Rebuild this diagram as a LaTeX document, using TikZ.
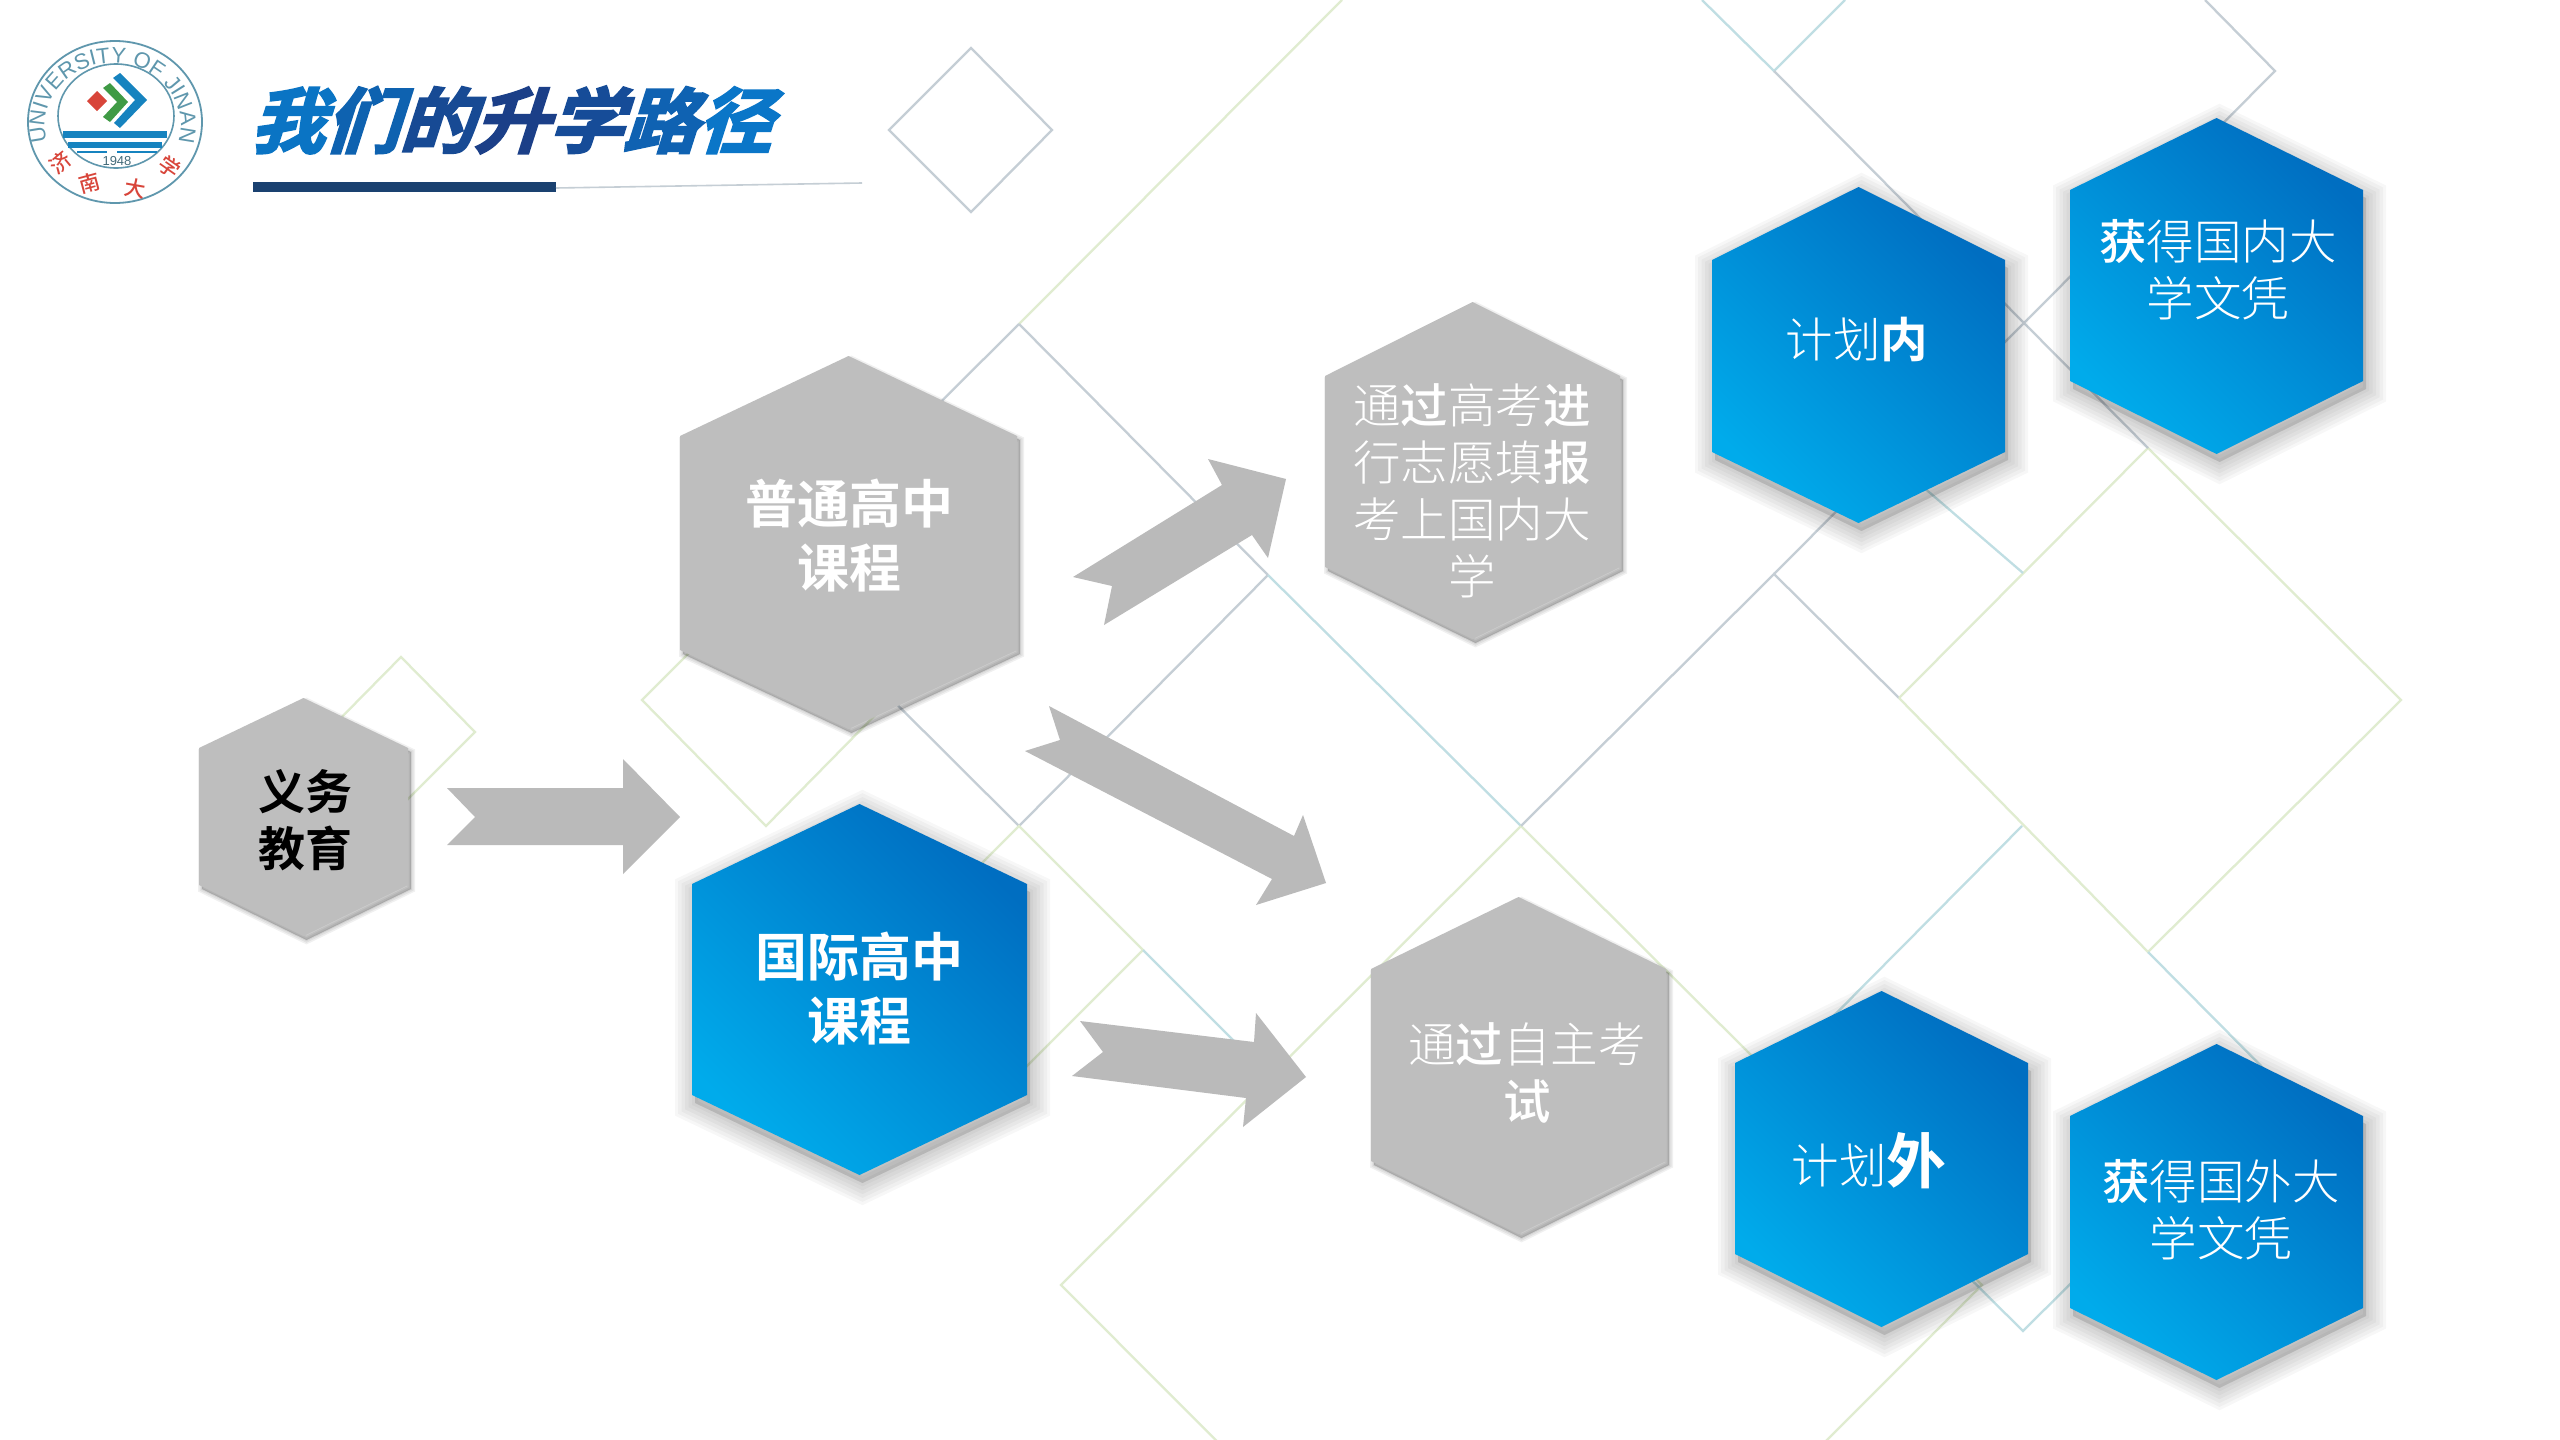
\documentclass[tikz,border=0pt]{standalone}
\usepackage{fontspec}
\usetikzlibrary{decorations.text}
\setmainfont{Liberation Sans}
\newfontfamily\cjkb{Noto Sans CJK SC Bold}
\newfontfamily\cjkm{Noto Sans CJK SC Medium}
\newfontfamily\cjkl{Noto Sans CJK SC Light}
\newfontfamily\cjkr{Noto Sans CJK SC}
\newfontfamily\ttlfont[FakeSlant=0.32,FakeBold=3.2,FakeStretch=1.05]{Noto Sans CJK SC Bold}
\definecolor{hexgrey}{HTML}{BEBEBE}
\definecolor{arrowgrey}{HTML}{BABABA}
\definecolor{blueTR}{HTML}{006EC1}
\definecolor{blueBL}{HTML}{00ABEB}
\definecolor{lnGreen}{HTML}{E0ECD0}
\definecolor{lnTeal}{HTML}{C0DEE3}
\definecolor{lnGrey}{HTML}{C5CED5}
\definecolor{barblue}{HTML}{1A4170}
\definecolor{logoblue}{HTML}{1683BF}
\definecolor{logoring}{HTML}{5F97AD}
\definecolor{logored}{HTML}{D8453A}
\definecolor{logogreen}{HTML}{3F9A45}
\definecolor{t1}{HTML}{0A74C4}
\definecolor{t2}{HTML}{0E62B0}
\definecolor{t3}{HTML}{174A94}
\definecolor{t4}{HTML}{1B3F88}
\definecolor{t5}{HTML}{164C98}
\definecolor{t6}{HTML}{0F62B2}
\definecolor{t7}{HTML}{0A76C8}
\tikzset{
  bgG/.style={draw=lnGreen,line width=2.3pt,line join=miter},
  bgT/.style={draw=lnTeal,line width=2.3pt,line join=miter},
  bgK/.style={draw=lnGrey,line width=2.3pt,line join=miter},
  blockarrow/.style={fill=arrowgrey,draw=none},
  whitebold/.style={text=white,font=\cjkb\fontsize{52}{64}\selectfont,align=center,inner sep=0pt},
  whitelight/.style={text=white,font=\cjkl\fontsize{47.5}{57}\selectfont,align=center,inner sep=0pt},
  blackbold/.style={text=black,font=\cjkb\fontsize{47}{57}\selectfont,align=center,inner sep=0pt},
  logotxt/.style={text=logored,font=\cjkm\fontsize{21}{21}\selectfont,inner sep=0pt}
}
% left right top shoulder1 shoulder2 bottom
\newcommand\hexpts[6]{({(#1+#2)/2},#3) -- (#2,#4) -- (#2,#5) -- ({(#1+#2)/2},#6) -- (#1,#5) -- (#1,#4) -- cycle}
\newcommand\greyhex[6]{%
  \path[fill=black,fill opacity=0.2,shift={(3,4)}] \hexpts{#1}{#2}{#3}{#4}{#5}{#6};
  \foreach \w in {2,5,8}{\path[draw=black,draw opacity=0.06,line width=\w pt,shift={(3,4)}] \hexpts{#1}{#2}{#3}{#4}{#5}{#6};}
  \path[fill=hexgrey] \hexpts{#1}{#2}{#3}{#4}{#5}{#6};}
\newcommand\bluehex[6]{%
  \path[fill=black,fill opacity=0.12,shift={(3,8)}] \hexpts{#1}{#2}{#3}{#4}{#5}{#6};
  \foreach \w in {6,13,20,27,34,40}{\path[draw=black,draw opacity=0.03,line width=\w pt,line join=miter,shift={(3,8)}] \hexpts{#1}{#2}{#3}{#4}{#5}{#6};}
  \path[shading=axis,top color=blueTR,bottom color=blueBL,shading angle=-45] \hexpts{#1}{#2}{#3}{#4}{#5}{#6};}
\begin{document}
\begin{tikzpicture}[x=1pt,y=-1pt]
\useasboundingbox[fill=white] (0,0) rectangle (2560,1440);
% ---- background lattice
\draw[bgK] (971,48) -- (1052,130) -- (971,212) -- (889,130) -- cycle;
\draw[bgG] (401,657) -- (475,732) -- (401,806) -- (327,732) -- cycle;
\draw[bgG] (766,576) -- (890,700) -- (766,826) -- (642,700) -- cycle;
\draw[bgG] (1342,0) -- (1019,324);
\draw[bgK] (1019,324) -- (1268,575) ;
\draw[bgK] (1268,575) -- (1019,826) -- (767,575) -- (1019,324);
\draw[bgT] (1268,575) -- (1521,826);
\draw[bgG] (1019,826) -- (1143,950) -- (1019,1074) -- (895,950) -- cycle;
\draw[bgT] (1143,950) -- (1262,1069);
\draw[bgG] (1521,826) -- (1982,1285) -- (1521,1746) -- (1061,1285) -- cycle;
\draw[bgK] (1521,826) -- (1774,574) -- (1899,698);
\draw[bgG] (1899,698) -- (2148,448) -- (2401,700) -- (2148,952) -- (1899,698);
\draw[bgT] (1702,0) -- (1774,71) -- (1845,0);
\draw[bgK] (1774,71) -- (2148,448);
\draw[bgK] (2205,0) -- (2275,71) -- (1774,574);
\draw[bgT] (1850,424) -- (2023,573);
\draw[bgT] (2148,952) -- (2275,1080) -- (2023,1331) -- (1770,1080) -- (2022,826);
% ---- block arrows
\fill[blockarrow] (447,788) -- (623,788) -- (623,759) -- (680,817) -- (623,874) -- (623,845) -- (447,845) -- (475,817) -- cycle;
\fill[blockarrow] (1112,586) -- (1073,577) -- (1222,485) -- (1208,459) -- (1286,479) -- (1268,558) -- (1252,535) -- (1104,625) -- cycle;
\fill[blockarrow] (1060,740) -- (1049,706) -- (1294,836) -- (1303,815) -- (1326,883) -- (1256,905) -- (1272,879) -- (1025,751) -- cycle;
\fill[blockarrow] (1103,1052) -- (1080,1021) -- (1254,1042) -- (1256,1013) -- (1306,1077) -- (1243,1127) -- (1246,1098) -- (1072,1076) -- cycle;
% ---- hexagons
\greyhex{199}{408}{698}{748}{885}{936}
\greyhex{680}{1017}{356}{436}{650}{729}
\bluehex{692}{1027}{804}{884}{1095}{1175}
\greyhex{1325}{1620}{302}{376}{567}{639}
\bluehex{1712}{2005}{187}{260}{452}{523}
\bluehex{2070}{2363}{118}{190}{381}{454}
\greyhex{1371}{1666}{897}{969}{1161}{1234}
\bluehex{1735}{2028}{991}{1063}{1254}{1327}
\bluehex{2070}{2363}{1044}{1116}{1308}{1380}
% ---- hexagon labels
\node[blackbold] (edu) at (305.5,820) {义务\\教育};
\node[whitebold] (gen) at (849,536) {普通高中\\课程};
\node[whitebold] (intl) at (859,989) {国际高中\\课程};
\node[whitelight] (gk) at (1472,491) {通{\cjkm 过}高考{\cjkm 进}\\行志愿填{\cjkm 报}\\考上国内大\\学};
\node[whitelight] (zz) at (1527,1073) {通{\cjkm 过}自主考\\{\cjkm 试}};
\node[whitelight] (jn) at (1857,339) {计划{\cjkb 内}};
\node[whitelight] (jw) at (1869,1161) {计划{\cjkb\fontsize{60}{60}\selectfont 外}};
\node[whitelight] (gn) at (2218,270) {{\cjkm 获}得国内大\\学文凭};
\node[whitelight] (gw) at (2221,1210) {{\cjkm 获}得国外大\\学文凭};
% ---- title
\node[inner sep=0pt,font=\ttlfont\fontsize{71}{71}\selectfont] (title) at (511,120) {\textcolor{t1}{我}\textcolor{t2}{们}\textcolor{t3}{的}\textcolor{t4}{升}\textcolor{t5}{学}\textcolor{t6}{路}\textcolor{t7}{径}};
\fill[barblue] (253,182) rectangle (556,192);
\draw[draw=lnGrey,line width=1.6pt] (556,188) -- (862,183);
% ---- logo
\draw[logoring,line width=1.8pt] (115,122) ellipse [x radius=87pt,y radius=81pt];
\draw[logoring,line width=1.6pt] (116,116) ellipse [x radius=58pt,y radius=52pt];
\path[postaction={decorate,decoration={text along path,text align=center,text color=logoring,
   text={|\fontsize{22}{22}\selectfont|UNIVERSITY OF JINAN}}}]
   (47,141) arc[start angle=195,delta angle=-210,x radius=68pt,y radius=62pt];
\fill[logored] (97,91) -- (107,101) -- (97,111) -- (87,101) -- cycle;
\fill[logogreen] (103,88) -- (110,83) -- (128,102) -- (110,122) -- (103,117) -- (117,102) -- cycle;
\fill[logoblue] (113,78) -- (120,73) -- (147,100) -- (120,128) -- (114,123) -- (135,100) -- cycle;
\fill[logoblue] (63,131) rectangle (167,138);
\fill[logoblue] (68,142) rectangle (162,148);
\fill[logoblue] (77,151) rectangle (107,153);
\fill[logoblue] (117,151) rectangle (157,153);
\node[inner sep=0pt,text=logoring!70!black,font=\fontsize{13}{13}\selectfont] (year) at (117,161) {1948};
\node[logotxt,rotate=40] (l1) at (60,163) {济};
\node[logotxt,rotate=15] (l2) at (90,183) {南};
\node[logotxt,rotate=-10] (l3) at (135,188) {大};
\node[logotxt,rotate=-35] (l4) at (170,167) {学};
\end{tikzpicture}
\end{document}
